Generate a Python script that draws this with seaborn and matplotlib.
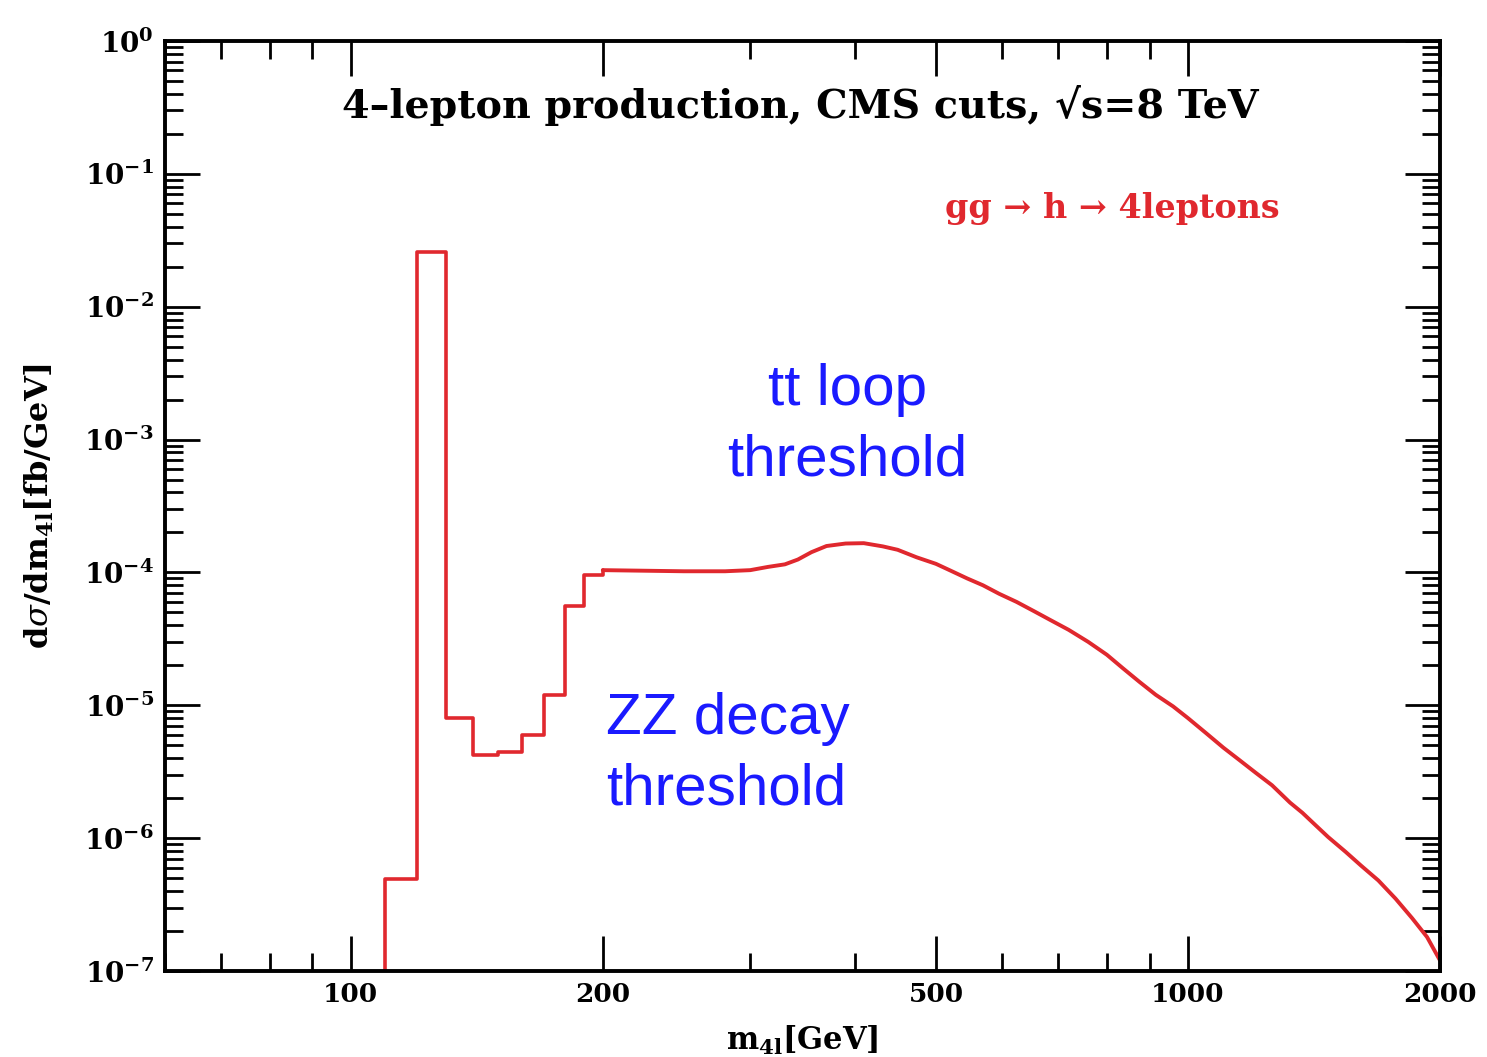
import numpy as np
import pandas as pd
import matplotlib
matplotlib.use("Agg")
import matplotlib.pyplot as plt
import seaborn as sns
from matplotlib.ticker import FixedLocator, FuncFormatter, NullFormatter, LogLocator

# low-mass histogram: bin edges (GeV) and d(sigma)/dm4l (fb/GeV)
bin_edges = [110, 120, 130, 140, 150, 160, 170, 180, 190, 200]
dsigma_bins = [4.9e-7, 2.57e-2, 8.0e-6, 4.2e-6, 4.45e-6, 6.0e-6, 1.19e-5, 5.6e-5, 9.5e-5]

# continuum above the ZZ threshold (fine binning looks like a line)
m_cont = [200, 250, 280, 300, 315, 330, 342, 355, 370, 390,
          410, 432, 450, 474, 500, 519, 545, 569, 595, 624,
          655, 684, 720, 760, 800, 836, 875, 915, 960, 1000,
          1050, 1102, 1150, 1205, 1260, 1324, 1370, 1411, 1470, 1542,
          1610, 1688, 1770, 1852, 1930, 2000]
dsigma_cont = [1.04e-4, 1.02e-4, 1.02e-4, 1.04e-4, 1.10e-4, 1.15e-4, 1.25e-4, 1.42e-4, 1.58e-4, 1.65e-4,
               1.66e-4, 1.57e-4, 1.48e-4, 1.30e-4, 1.16e-4, 1.04e-4, 9.0e-5, 8.0e-5, 6.9e-5, 6.0e-5,
               5.1e-5, 4.4e-5, 3.7e-5, 3.0e-5, 2.4e-5, 1.9e-5, 1.5e-5, 1.2e-5, 9.8e-6, 8.0e-6,
               6.2e-6, 4.8e-6, 3.9e-6, 3.1e-6, 2.5e-6, 1.85e-6, 1.55e-6, 1.30e-6, 1.02e-6, 7.9e-7,
               6.2e-7, 4.8e-7, 3.5e-7, 2.5e-7, 1.8e-7, 1.2e-7]

x_major = [100, 200, 500, 1000, 2000]
x_minor = [60, 70, 80, 90, 300, 400, 600, 700, 800, 900]
y_major = [1e-7, 1e-6, 1e-5, 1e-4, 1e-3, 1e-2, 1e-1, 1e0]

# step outline: start below the axis floor so the first edge is a vertical line
df_bins = pd.DataFrame({
    "m": [bin_edges[0]] + bin_edges,
    "v": [1e-9] + dsigma_bins + [dsigma_cont[0]],
})
df_cont = pd.DataFrame({"m": m_cont, "v": dsigma_cont})

sns.set_style("ticks", {"text.color": "black", "xtick.color": "black",
                        "ytick.color": "black", "axes.labelcolor": "black"})
plt.rcParams["font.family"] = ["DejaVu Serif"]
plt.rcParams["mathtext.fontset"] = "dejavuserif"

red = "#e0282e"
fig = plt.figure(figsize=(14.87, 10.57), dpi=100)
ax = fig.add_axes([0.111, 0.0814, 0.8574, 0.8798])
ax.set_xscale("log")
ax.set_yscale("log")

sns.lineplot(data=df_bins, x="m", y="v", estimator=None, sort=False,
             drawstyle="steps-post", color=red, linewidth=2.6, ax=ax)
sns.lineplot(data=df_cont, x="m", y="v", estimator=None, sort=False,
             color=red, linewidth=2.8, ax=ax)

ax.set_xlim(60, 2000)
ax.set_ylim(1e-7, 1)

ax.xaxis.set_major_locator(FixedLocator(x_major))
ax.xaxis.set_minor_locator(FixedLocator(x_minor))
ax.xaxis.set_major_formatter(FuncFormatter(lambda v, p: f"{int(v)}"))
ax.xaxis.set_minor_formatter(NullFormatter())
ax.yaxis.set_major_locator(FixedLocator(y_major))
ax.yaxis.set_minor_locator(LogLocator(base=10, subs=np.arange(2, 10), numticks=20))
ax.yaxis.set_major_formatter(FuncFormatter(
    lambda v, p: r"$\mathbf{10^{%d}}$" % int(round(np.log10(v)))))
ax.yaxis.set_minor_formatter(NullFormatter())

for s in ax.spines.values():
    s.set_linewidth(2.8)
    s.set_color("black")
ax.tick_params(which="both", direction="in", top=True, right=True, width=2.0, color="black")
ax.tick_params(which="major", length=25)
ax.tick_params(which="minor", length=13)
ax.tick_params(axis="x", which="major", labelsize=19, pad=8, labelcolor="black")
ax.tick_params(axis="y", which="major", labelsize=20, pad=8, labelcolor="black")
for lab in ax.get_xticklabels():
    lab.set_fontweight("bold")

ax.set_xlabel(r"m$_{\mathbf{4l}}$[GeV]", fontsize=22, fontweight="bold", labelpad=12, color="black")
ax.set_ylabel(r"d$\sigma$/dm$_{\mathbf{4l}}$[fb/GeV]", fontsize=23, fontweight="bold",
              labelpad=20, color="black")

ax.text(0.498, 0.931, "4\u2013lepton production, CMS cuts, \u221as=8 TeV",
        transform=ax.transAxes, ha="center", va="center",
        fontsize=28.5, fontweight="bold", color="black")
ax.text(0.743, 0.820, "gg \u2192 h \u2192 4leptons", transform=ax.transAxes,
        ha="center", va="center", fontsize=24, fontweight="bold", color=red)

blue = "#1a1aff"
ax.text(0.535, 0.587, "tt loop\nthreshold", transform=ax.transAxes, ha="center", va="center",
        fontsize=42, color=blue, family="Liberation Sans", linespacing=1.4)
ax.text(0.346, 0.233, "ZZ decay\nthreshold", transform=ax.transAxes, ha="left", va="center",
        fontsize=42, color=blue, family="Liberation Sans", linespacing=1.4)

fig.savefig("out.png", dpi=100)
